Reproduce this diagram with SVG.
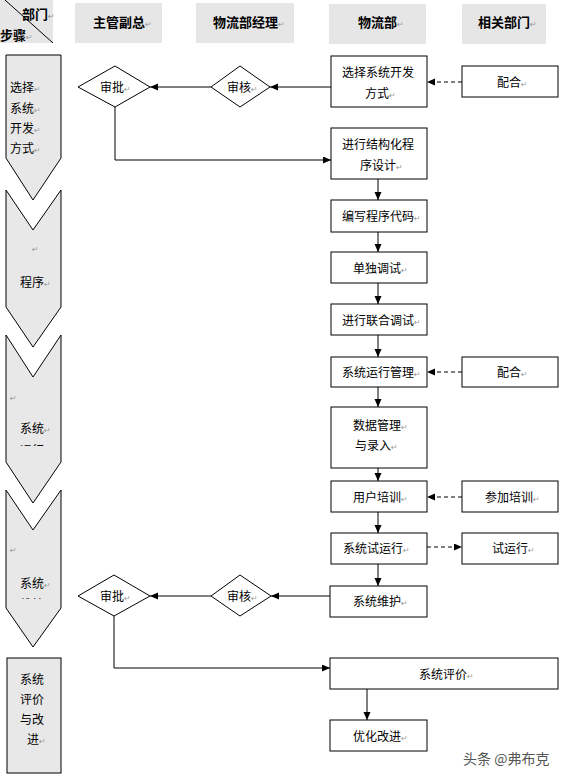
<svg xmlns="http://www.w3.org/2000/svg" width="565" height="778" viewBox="0 0 565 778">
<style>
text{font-family:"Noto Sans CJK SC","Noto Sans CJK JP",sans-serif;font-size:12px;fill:#000}
.hd{font-weight:bold;font-size:13px}
.rt{font-family:"DejaVu Sans",sans-serif;font-size:8px;fill:#999;font-weight:normal}
.hbox{fill:#e6e6e6;stroke:none}
.step{fill:#e8e8e8;stroke:#000;stroke-width:1}
.box{fill:#fff;stroke:#000;stroke-width:1}
.dia{fill:#fff;stroke:#000;stroke-width:1}
.ln{fill:none;stroke:#000;stroke-width:1}
.dash{fill:none;stroke:#000;stroke-width:1;stroke-dasharray:4 3}
.wm{font-size:14px;fill:#555}
</style>
<defs>
<marker id="arr" markerUnits="userSpaceOnUse" markerWidth="9" markerHeight="8" refX="8" refY="3.5" orient="auto">
<path d="M0,0 L8,3.5 L0,7 z" fill="#000"/>
</marker>
<clipPath id="c3"><rect x="6" y="330" width="56" height="116"/></clipPath>
<clipPath id="c4"><rect x="6" y="485" width="56" height="114"/></clipPath>
</defs>

<g id="header">
<g id="h-corner"><rect class="hbox" x="0" y="0" width="53" height="43"/><line x1="5" y1="0" x2="53" y2="43" stroke="#000" stroke-width="1"/><text class="hd" x="22" y="19">部门<tspan class="rt">↵</tspan></text><text class="hd" x="0" y="40">步骤<tspan class="rt">↵</tspan></text></g>
<g id="h-vp"><rect class="hbox" x="75" y="3" width="87" height="40"/><text class="hd" x="93" y="27">主管副总<tspan class="rt">↵</tspan></text></g>
<g id="h-mgr"><rect class="hbox" x="196" y="3" width="98" height="40"/><text class="hd" x="213" y="27">物流部经理<tspan class="rt">↵</tspan></text></g>
<g id="h-log"><rect class="hbox" x="329" y="4" width="97" height="40"/><text class="hd" x="358" y="27">物流部<tspan class="rt">↵</tspan></text></g>
<g id="h-rel"><rect class="hbox" x="462" y="4" width="84" height="40"/><text class="hd" x="478" y="27">相关部门<tspan class="rt">↵</tspan></text></g>
</g>

<g id="steps">
<g id="step1"><polygon class="step" points="6,55 61,55 61,158 33,200 6,158"/>
<text x="10" y="92">选择<tspan class="rt">↵</tspan></text>
<text x="10" y="113">系统<tspan class="rt">↵</tspan></text>
<text x="10" y="133">开发<tspan class="rt">↵</tspan></text>
<text x="10" y="153">方式<tspan class="rt">↵</tspan></text></g>
<g id="step2"><polygon class="step" points="6,190 33,230 61,190 61,307 33,347 6,307"/>
<text class="rt" x="32" y="252">↵</text>
<text x="20" y="287">程序<tspan class="rt">↵</tspan></text></g>
<g id="step3"><polygon class="step" points="6,335 33,377 61,335 61,462 33,503 6,462"/>
<text class="rt" x="10" y="401">↵</text>
<g clip-path="url(#c3)"><text x="20" y="433">系统<tspan class="rt">↵</tspan></text>
<text x="20" y="455">运行<tspan class="rt">↵</tspan></text></g></g>
<g id="step4"><polygon class="step" points="6,490 33,530 61,490 61,608 33,647 6,608"/>
<text class="rt" x="10" y="553">↵</text>
<g clip-path="url(#c4)"><text x="20" y="588">系统<tspan class="rt">↵</tspan></text>
<text x="20" y="609">维护<tspan class="rt">↵</tspan></text></g></g>
<g id="step5"><rect class="step" x="7" y="658" width="54" height="115"/>
<text x="20" y="684">系统</text>
<text x="20" y="704">评价</text>
<text x="20" y="724">与改</text>
<text x="27" y="744">进<tspan class="rt">↵</tspan></text></g>
</g>

<g id="connectors">
<line class="ln" x1="331" y1="87" x2="270" y2="87" marker-end="url(#arr)"/>
<line class="ln" x1="211" y1="87" x2="150" y2="87" marker-end="url(#arr)"/>
<polyline class="ln" points="115,107 115,160 331,160" marker-end="url(#arr)"/>
<line class="ln" x1="378" y1="179" x2="378" y2="200" marker-end="url(#arr)"/>
<line class="ln" x1="378" y1="232" x2="378" y2="252" marker-end="url(#arr)"/>
<line class="ln" x1="378" y1="283" x2="378" y2="304" marker-end="url(#arr)"/>
<line class="ln" x1="378" y1="335" x2="378" y2="357" marker-end="url(#arr)"/>
<line class="ln" x1="378" y1="387" x2="378" y2="407" marker-end="url(#arr)"/>
<line class="ln" x1="378" y1="468" x2="378" y2="481" marker-end="url(#arr)"/>
<line class="ln" x1="378" y1="512" x2="378" y2="533" marker-end="url(#arr)"/>
<line class="ln" x1="378" y1="564" x2="378" y2="586" marker-end="url(#arr)"/>
<line class="dash" x1="462" y1="82" x2="427" y2="82" marker-end="url(#arr)"/>
<line class="dash" x1="462" y1="372" x2="427" y2="372" marker-end="url(#arr)"/>
<line class="dash" x1="462" y1="497" x2="427" y2="497" marker-end="url(#arr)"/>
<line class="dash" x1="427" y1="547" x2="462" y2="547" marker-end="url(#arr)"/>
<line class="ln" x1="330" y1="596" x2="271" y2="596" marker-end="url(#arr)"/>
<line class="ln" x1="211" y1="596" x2="150" y2="596" marker-end="url(#arr)"/>
<polyline class="ln" points="114,616 114,668 330,668" marker-end="url(#arr)"/>
<line class="ln" x1="367" y1="689" x2="367" y2="720" marker-end="url(#arr)"/>
</g>

<g id="n-approve1"><polygon class="dia" points="78,87 115,66 150,87 115,107"/><text x="100" y="92">审批<tspan class="rt">↵</tspan></text></g>
<g id="n-review1"><polygon class="dia" points="211,87 240,66 270,87 240,107"/><text x="227" y="92">审核<tspan class="rt">↵</tspan></text></g>
<g id="n-select"><rect class="box" x="331" y="56" width="96" height="51"/><text x="342" y="77">选择系统开发</text><text x="365" y="98">方式<tspan class="rt">↵</tspan></text></g>
<g id="n-coop1"><rect class="box" x="462" y="66" width="96" height="31"/><text x="497" y="86.5">配合<tspan class="rt">↵</tspan></text></g>
<g id="n-design"><rect class="box" x="331" y="128" width="96" height="51"/><text x="342" y="149">进行结构化程</text><text x="360" y="170">序设计<tspan class="rt">↵</tspan></text></g>
<g id="n-code"><rect class="box" x="331" y="200" width="96" height="32"/><text x="342" y="220.5">编写程序代码<tspan class="rt">↵</tspan></text></g>
<g id="n-unit"><rect class="box" x="331" y="252" width="96" height="31"/><text x="353" y="272.5">单独调试<tspan class="rt">↵</tspan></text></g>
<g id="n-joint"><rect class="box" x="331" y="304" width="96" height="31"/><text x="342" y="324.5">进行联合调试<tspan class="rt">↵</tspan></text></g>
<g id="n-runmgmt"><rect class="box" x="331" y="357" width="96" height="30"/><text x="342" y="376.5">系统运行管理<tspan class="rt">↵</tspan></text></g>
<g id="n-coop2"><rect class="box" x="462" y="357" width="96" height="30"/><text x="497" y="376.5">配合<tspan class="rt">↵</tspan></text></g>
<g id="n-data"><rect class="box" x="331" y="407" width="96" height="61"/><text x="353" y="429.5">数据管理<tspan class="rt">↵</tspan></text><text x="355" y="449.5">与录入<tspan class="rt">↵</tspan></text></g>
<g id="n-train"><rect class="box" x="331" y="481" width="96" height="31"/><text x="353" y="502">用户培训<tspan class="rt">↵</tspan></text></g>
<g id="n-jointrain"><rect class="box" x="462" y="481" width="96" height="31"/><text x="485" y="502">参加培训<tspan class="rt">↵</tspan></text></g>
<g id="n-trial"><rect class="box" x="331" y="533" width="96" height="31"/><text x="343" y="553">系统试运行<tspan class="rt">↵</tspan></text></g>
<g id="n-trial2"><rect class="box" x="462" y="533" width="96" height="31"/><text x="492" y="553">试运行<tspan class="rt">↵</tspan></text></g>
<g id="n-maint"><rect class="box" x="330" y="586" width="97" height="31"/><text x="353" y="606">系统维护<tspan class="rt">↵</tspan></text></g>
<g id="n-review2"><polygon class="dia" points="211,596 240,575 271,596 240,616"/><text x="227" y="600.5">审核<tspan class="rt">↵</tspan></text></g>
<g id="n-approve2"><polygon class="dia" points="78,596 114,575 150,596 114,616"/><text x="100" y="600.5">审批<tspan class="rt">↵</tspan></text></g>
<g id="n-eval"><rect class="box" x="330" y="658" width="228" height="31"/><text x="419" y="679">系统评价<tspan class="rt">↵</tspan></text></g>
<g id="n-improve"><rect class="box" x="330" y="720" width="97" height="31"/><text x="353" y="740.5">优化改进<tspan class="rt">↵</tspan></text></g>
<text class="wm" x="463" y="764">头条 @弗布克</text>
</svg>
